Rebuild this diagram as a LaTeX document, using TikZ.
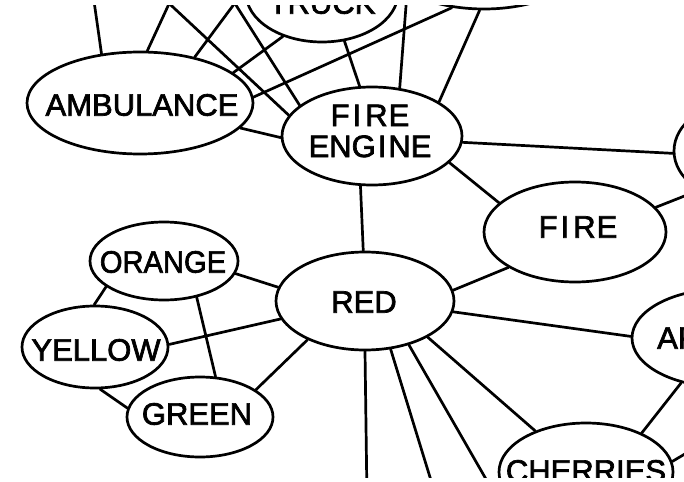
\documentclass[tikz,border=0pt]{standalone}
\usepackage{fontspec}
\setmainfont{Liberation Sans}
\newfontfamily\lettering[FakeBold=2.2]{Liberation Sans}
\usetikzlibrary{shapes.geometric}
\tikzset{
  bub/.style 2 args={draw, ellipse, line width=2.7pt, fill=white, inner sep=0pt,
    minimum width=#1pt, minimum height=#2pt},
  lnk/.style={line width=2.7pt, line cap=round},
  lbl/.style={font=\lettering\fontsize{31}{31}\selectfont, inner sep=0pt, align=center},
}
\begin{document}
\begin{tikzpicture}[x=1pt,y=-1pt]
\useasboundingbox[fill=white] (0,0) rectangle (684,481);
\begin{scope}
\clip (0,6) rectangle (684,477);

% concept nodes (ellipses)
\node[bub={226}{102}] (amb)    at (140,103) {};
\node[bub={180}{98}]  (fe)     at (372,136) {};
\node[bub={152}{98}]  (truck)  at (322,-7)  {};
\node[bub={200}{98}]  (topr)   at (484,-40) {};
\node[bub={132}{98}]  (house)  at (740,151) {};
\node[bub={182}{100}] (fire)   at (575,232) {};
\node[bub={178}{98}]  (red)    at (365,301) {};
\node[bub={148}{78}]  (orange) at (164,261) {};
\node[bub={146}{82}]  (yellow) at (95,347)  {};
\node[bub={146}{80}]  (green)  at (200,417) {};
\node[bub={174}{98}]  (cher)   at (586,472) {};
\node[bub={182}{98}]  (apples) at (723,338) {};

% labels
\node[lbl] (truckT)  at (322,3)   {TRUCK};
\node[lbl] (ambT)    at (142,105) {AMBULANCE};
\node[lbl] (feT)     at (370,131) {F\kern3pt I\kern4pt R\kern1pt E\\ENG\kern2pt I\kern2pt NE};
\node[lbl] (fireT)   at (578,227) {F\kern3pt I\kern4pt R\kern1pt E};
\node[lbl] (redT)    at (364,302) {RED};
\node[lbl, xscale=0.94] (orangeT) at (163,262) {ORANGE};
\node[lbl] (yellowT) at (96,350)  {YELLOW};
\node[lbl] (greenT)  at (197,414) {GREEN};
\node[lbl] (cherT)   at (586,471) {CHERRIES};
\node[lbl, anchor=west] (applesT) at (657,338) {APPLES};

% free ends of links that leave the sheet
\coordinate (c1) at (91,-20);
\coordinate (c2) at (180,-20);
\coordinate (c3) at (144,-20);
\coordinate (c4) at (252,-20);
\coordinate (c5) at (220,-20);
\coordinate (c9) at (408,-20);
\coordinate (c16) at (720,182);
\coordinate (cC) at (700,445);
\coordinate (b1) at (367,500);
\coordinate (b2) at (437,500);
\coordinate (b3) at (498,500);

% links around the vehicles
\draw[lnk] (amb.128) -- (c1);
\draw[lnk] (amb.82) -- (c2);
\draw[lnk] (fe.166) -- (c3);
\draw[lnk] (amb.40) -- (c4);
\draw[lnk] (fe.157) -- (c5);
\draw[lnk] (truck.228) -- (amb.18);
\draw[lnk] (topr.-124) -- (amb.3);
\draw[lnk] (truck.-65) -- (fe.104);
\draw[lnk] (fe.60) -- (c9);
\draw[lnk] (topr.-95) -- (fe.27);
\draw[lnk] (amb.-14) -- (fe.181);

% fire engine, fire, red
\draw[lnk] (fe.-4) -- (house.182);
\draw[lnk] (fe.-19) -- (fire.159);
\draw[lnk] (fe.-103) -- (red.92);
\draw[lnk] (fire.208) -- (red.7);
\draw[lnk] (fire.17) -- (c16);

% colours
\draw[lnk] (orange.-10) -- (red.171);
\draw[lnk] (orange.204) -- (yellow.91);
\draw[lnk] (orange.-48) -- (green.69);
\draw[lnk] (yellow.2) -- (red.192);
\draw[lnk] (yellow.-83) -- (green.173);
\draw[lnk] (green.26) -- (red.214);

% below red
\draw[lnk] (red.-90) -- (b1);
\draw[lnk] (red.-62) -- (b2);
\draw[lnk] (red.-45) -- (b3);
\draw[lnk] (red.-30) -- (cher.141);
\draw[lnk] (red.-7) -- (apples.179);
\draw[lnk] (apples.227) -- (cher.35);
\draw[lnk] (cher.7) -- (cC);
\end{scope}
\end{tikzpicture}
\end{document}
